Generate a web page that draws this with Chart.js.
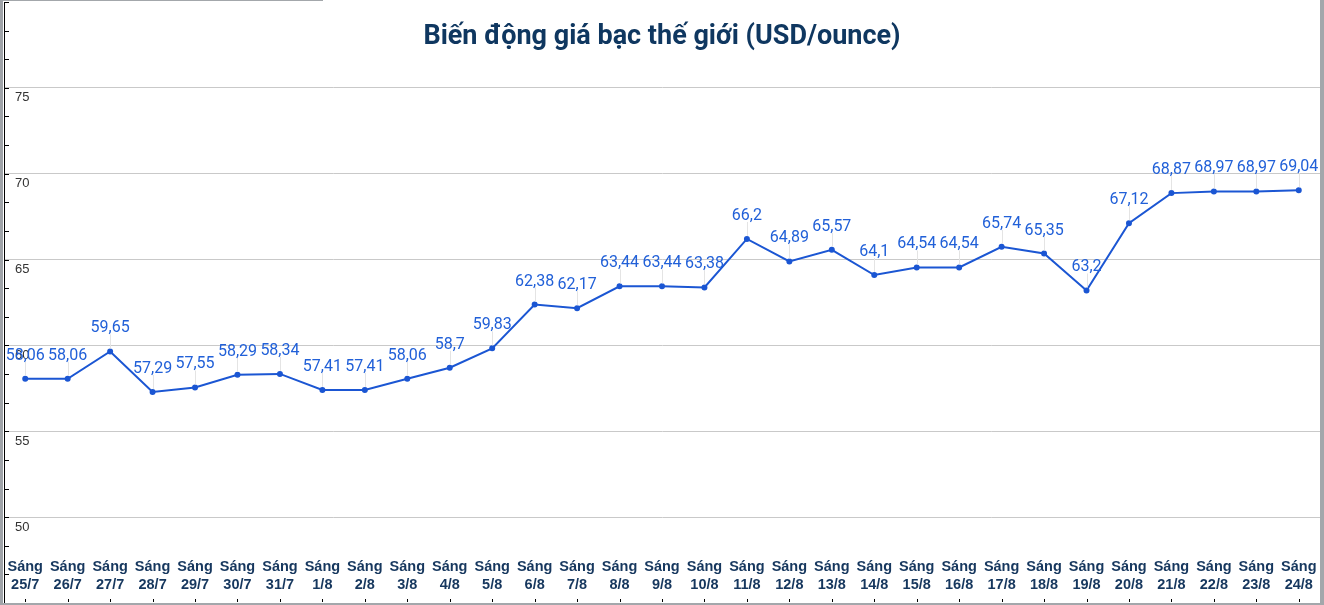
<!DOCTYPE html>
<html>
<head>
<meta charset="utf-8">
<script src="https://cdn.jsdelivr.net/npm/chart.js@4"></script>
<style>
  body { margin: 0; background: #fff; }
  .wrap { position: relative; width: 1317px; height: 603px; border-left: 3px solid #9fa3a8; border-right: 4px solid #a3a7ab; border-bottom: 2px solid #a3a7ab; }
  .topline { position: absolute; left: 0; top: 0; width: 320px; height: 1px; background: #a3a7ab; }
</style>
</head>
<body>
<div class="wrap">
  <div class="topline"></div>
  <canvas id="ccanvvas" width="1317" height="603"></canvas>
</div>
<script>
const title = 'Biến động giá bạc thế giới (USD/ounce)'
const days = ['25/7', '26/7', '27/7', '28/7', '29/7', '30/7', '31/7', '1/8', '2/8', '3/8', '4/8', '5/8', '6/8', '7/8', '8/8', '9/8',
  '10/8', '11/8', '12/8', '13/8', '14/8', '15/8', '16/8', '17/8', '18/8', '19/8', '20/8', '21/8', '22/8', '23/8', '24/8']
const prices = [58.06, 58.06, 59.65, 57.29, 57.55, 58.29, 58.34, 57.41, 57.41, 58.06, 58.7, 59.83, 62.38, 62.17, 63.44, 63.44,
  63.38, 66.2, 64.89, 65.57, 64.1, 64.54, 64.54, 65.74, 65.35, 63.2, 67.12, 68.87, 68.97, 68.97, 69.04]
const yLabels = [50, 55, 60, 65, 70, 75]

const isMajor = v => Math.abs(v / 5 - Math.round(v / 5)) < 1e-6

// title, x labels, data labels, minor ticks drawn from the scales
const extras = {
  id: 'extras',
  afterDatasetsDraw(chart) {
    const ctx = chart.ctx
    const x = chart.scales.x
    const y = chart.scales.y
    const area = chart.chartArea
    ctx.save()
    // small ticks on the left axis
    ctx.strokeStyle = '#000'
    ctx.lineWidth = 1
    y.ticks.forEach(t => {
      const py = Math.round(y.getPixelForValue(t.value)) + 0.5
      ctx.beginPath()
      ctx.moveTo(area.left, py)
      ctx.lineTo(area.left + 5, py)
      ctx.stroke()
    })
    // data labels with leader lines
    const meta = chart.getDatasetMeta(0)
    ctx.font = '16px Roboto'
    ctx.textAlign = 'center'
    ctx.textBaseline = 'alphabetic'
    meta.data.forEach((pt, i) => {
      ctx.strokeStyle = '#e4e4e4'
      ctx.beginPath()
      ctx.moveTo(Math.round(pt.x) + 0.5, pt.y - 3)
      ctx.lineTo(Math.round(pt.x) + 0.5, pt.y - 17)
      ctx.stroke()
      ctx.fillStyle = '#2160d8'
      ctx.fillText(String(prices[i]).replace('.', ','), pt.x, pt.y - 19)
    })
    // category labels inside the plot + bottom tick marks
    ctx.fillStyle = '#16375e'
    ctx.font = 'bold 14.5px "Liberation Sans", Arial'
    ctx.textBaseline = 'middle'
    days.forEach((d, i) => {
      const px = x.getPixelForValue(i)
      ctx.fillText('Sáng', px, area.bottom - 36)
      ctx.fillText(d, px, area.bottom - 18)
      ctx.fillStyle = '#000'
      ctx.fillRect(Math.round(px), area.bottom - 4, 1, 3)
      ctx.fillStyle = '#16375e'
    })
    // title
    ctx.font = 'bold 27px Roboto'
    ctx.fillStyle = '#0f3760'
    ctx.fillText(title, (area.left + area.right) / 2, 37)
    ctx.restore()
  }
}

new Chart(document.querySelector('#ccanvvas'), {
  type: 'line',
  data: {
    labels: days,
    datasets: [{
      data: prices,
      borderColor: '#1b56d3',
      backgroundColor: '#1b56d3',
      borderWidth: 2,
      pointRadius: 2,
      tension: 0,
      fill: false
    }]
  },
  options: {
    responsive: false,
    animation: false,
    layout: { autoPadding: false, padding: { top: 2, bottom: 0, left: 0, right: 0 } },
    plugins: { legend: { display: false }, tooltip: { enabled: false } },
    scales: {
      x: { display: false, offset: true },
      y: {
        min: 45,
        max: 80,
        afterFit: s => { s.width = 1; s.paddingTop = 0; s.paddingBottom = 0 },
        border: { display: true, color: '#000', width: 1 },
        grid: {
          drawTicks: false,
          color: c => isMajor(c.tick.value) && c.tick.value > 45 && c.tick.value < 80 ? '#c9c9c9' : 'rgba(0,0,0,0)'
        },
        ticks: {
          stepSize: 5 / 3,
          mirror: true,
          padding: 11,
          labelOffset: 10,
          color: '#333',
          font: { family: '"Liberation Sans", Arial', size: 13 },
          callback: v => yLabels.find(l => Math.abs(l - v) < 1e-6) !== undefined ? String(Math.round(v)) : ''
        }
      }
    }
  },
  plugins: [extras]
})
</script>
</body>
</html>
